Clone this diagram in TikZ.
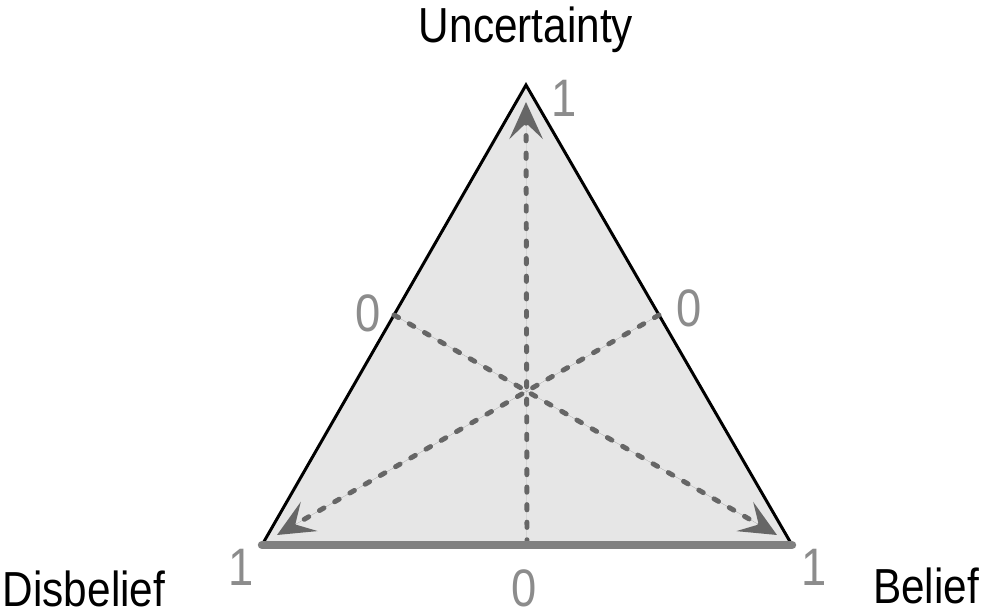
\documentclass[tikz,border=0pt]{standalone}
\usepackage{fontspec}
\setmainfont[FakeStretch=0.86]{Liberation Sans}
\usepackage{xcolor}
\usepackage{tikz}
\usetikzlibrary{arrows.meta, positioning, calc}
\definecolor{trifill}{HTML}{E6E6E6}
\definecolor{axisdraw}{HTML}{666666}
\definecolor{basedraw}{HTML}{808080}
\definecolor{numtext}{HTML}{8C8C8C}
\tikzset{
  corner/.style={font=\fontsize{28}{28}\selectfont, text=black, inner sep=0pt},
  num/.style={font=\fontsize{30}{30}\selectfont, text=numtext, inner sep=0pt},
  tri/.style={draw=black, fill=trifill, line width=1.7pt, line join=miter},
  base/.style={draw=basedraw, line width=4.8pt, line cap=round},
  axis/.style={-{Stealth[length=21pt, width=19pt, inset=9pt]}, draw=axisdraw, fill=axisdraw, line width=2.8pt, line cap=round, dash pattern=on 3pt off 7pt},
}

\begin{document}
\begin{tikzpicture}[x=0.2mm, y=-0.2mm]
  \useasboundingbox (0,0) rectangle (997,616);
  % corners of the triangle
  \coordinate (U) at (526,85);
  \coordinate (D) at (262,545);
  \coordinate (B) at (792,545);
  \coordinate (Dm) at ($(U)!0.5!(D)$);
  \coordinate (Bm) at ($(U)!0.5!(B)$);
  \coordinate (Um) at ($(D)!0.5!(B)$);
  \coordinate (Utip) at (526,102);
  \coordinate (Dtip) at (277,535);
  \coordinate (Btip) at (777,535);

  \draw[tri] (U) -- (B) -- (D) -- cycle;

  % axes
  \draw[axis] (Um) -- (Utip);
  \draw[axis] (Dm) -- (Btip);
  \draw[axis] (Bm) -- (Dtip);

  \draw[base] (D) -- (B);

  \node[corner] (unc) at (526,30) {Uncertainty};
  \node[corner, anchor=base] (dis) at (84,606) {Disbelief};
  \node[corner] (bel) at (926,586) {Belief};

  \node[num] (u1) at (564,98) {1};
  \node[num] (d0) at (368,313) {0};
  \node[num] (b0) at (689,308) {0};
  \node[num] (d1) at (241,567) {1};
  \node[num] (b1) at (814,567) {1};
  \node[num] (u0) at (524,588) {0};
\end{tikzpicture}
\end{document}
